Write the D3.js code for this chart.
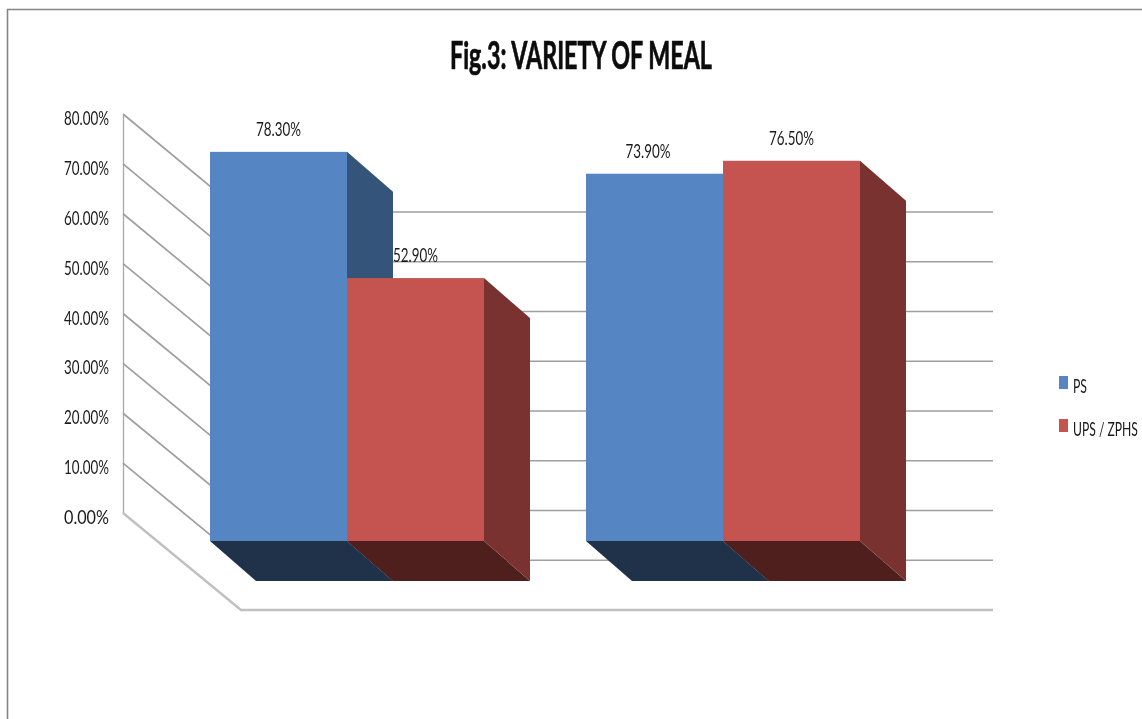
<!DOCTYPE html>
<html>
<head>
<meta charset="utf-8">
<script src="https://cdn.jsdelivr.net/npm/d3@7"></script>
<style>
html,body{margin:0;padding:0;background:#fff;}
svg{display:block;filter:blur(0.45px);}
text{font-family:Lato,"Open Sans",sans-serif;fill:#1a1a1a;}
</style>
</head>
<body>
<div id="chart"></div>
<script>
const titleText = "Fig.3: VARIETY OF MEAL";
const groups = ["Group 1", "Group 2"];
const seriesNames = ["PS", "UPS / ZPHS"];
const psValues = [78.3, 73.9];
const upsValues = [52.9, 76.5];
const tickValues = [0, 10, 20, 30, 40, 50, 60, 70, 80];
const faceColors = ["#5585c2", "#c5534f"];
const sideColors = ["#34547a", "#7a3230"];
const floorColors = ["#1f3249", "#4f1f1d"];

const W = 1142, H = 719;
const svg = d3.select("#chart").append("svg").attr("width", W).attr("height", H);

// Squeeze a text horizontally to a given pixel width (the reference is a stretched image)
function squeeze(sel, targetW) {
  sel.each(function (d, i) {
    const t = d3.select(this);
    const x = +t.attr("x"), y = +t.attr("y");
    const w = this.getComputedTextLength();
    const tw = typeof targetW === "function" ? targetW(d, i) : targetW;
    t.attr("transform", `translate(${x},${y}) scale(${tw / w},1)`).attr("x", 0).attr("y", 0);
  });
}

// Frame of the chart area
svg.append("path").attr("d", `M7.5,${H + 5}V9.5H${W + 5}`).attr("fill", "none")
  .attr("stroke", "#858585").attr("stroke-width", 1.6);

// Scales: front plane of bars, left wall edge and back wall
const yBar = d3.scaleLinear().domain([0, 80]).range([541, 143.4]);
const yWallFront = d3.scaleLinear().domain([0, 80]).range([513, 114]);
const yWallBack = d3.scaleLinear().domain([0, 80]).range([610, 212]);
const xGroup = d3.scaleOrdinal().domain(groups).range([210, 586]);
const xWallFront = 123, xWallBack = 241, xEnd = 993;
const depthX = 46, depthY = 40;
const barW = 137;

// Left wall and back wall gridlines
const grid = svg.append("g").attr("fill", "none");
grid.append("line").attr("x1", xWallFront + .5).attr("x2", xWallFront + .5)
  .attr("y1", yWallFront(80)).attr("y2", yWallFront(0))
  .attr("stroke", "#a9a9a9").attr("stroke-width", 1.3);
grid.selectAll("path.w").data(tickValues).join("path").attr("class", "w")
  .attr("d", v => `M${xWallFront},${yWallFront(v)}L${xWallBack},${yWallBack(v)}H${xEnd}`)
  .attr("stroke-width", v => v === 0 ? 2.4 : 1.7)
  .attr("stroke", v => v === 0 ? "#c0c0c0" : "#9f9f9f");

// Axis labels
svg.append("g").selectAll("text").data(tickValues).join("text")
  .attr("x", 64).attr("y", v => yWallFront(v) + 11)
  .attr("font-size", 18.5)
  .text(v => d3.format(".2f")(v) + "%")
  .call(squeeze, 45);

// Bars
const bars = [];
groups.forEach((g, gi) => {
  [psValues[gi], upsValues[gi]].forEach((v, si) => {
    const x0 = xGroup(g) + si * barW;
    bars.push({g, gi, si, v, x0, x1: x0 + barW});
  });
});
const barG = svg.append("g");
const draw = barG.selectAll("g").data(bars).join("g");
// floor
draw.append("path").attr("fill", d => floorColors[d.si])
  .attr("d", d => `M${d.x0},${yBar(0)}H${d.x1}L${d.x1 + depthX},${yBar(0) + depthY}H${d.x0 + depthX}Z`);
// side
draw.append("path").attr("fill", d => sideColors[d.si])
  .attr("d", d => `M${d.x1},${yBar(d.v)}L${d.x1 + depthX},${yBar(d.v) + depthY}V${yBar(0) + depthY}L${d.x1},${yBar(0)}Z`);
// Fronts last so that the next bar covers the previous side
barG.selectAll("rect").data(bars).join("rect")
  .attr("x", d => d.x0).attr("y", d => yBar(d.v))
  .attr("width", barW).attr("height", d => yBar(0) - yBar(d.v))
  .attr("fill", d => faceColors[d.si]);

// Value labels
const labelNudge = d => d.gi === 1 && d.si === 0 ? -6.5 : 0;
svg.append("g").selectAll("text").data(bars).join("text")
  .attr("x", d => d.x0 + barW / 2 + labelNudge(d) - 22.5)
  .attr("y", d => yBar(d.v) - 16)
  .attr("font-size", 18.5)
  .text(d => d3.format(".2f")(d.v) + "%")
  .call(squeeze, 45);

// Title
svg.append("text").attr("x", 450).attr("y", 69)
  .attr("font-size", 37.5).attr("font-weight", 700)
  .style("fill", "#0c0c0c").attr("stroke", "#0c0c0c").attr("stroke-width", 0.7)
  .text(titleText)
  .call(squeeze, 262);

// Legend
const legendY = d3.scalePoint().domain(seriesNames).range([376, 419]);
const lg = svg.append("g").selectAll("g").data(seriesNames).join("g")
  .attr("transform", d => `translate(1059,${legendY(d)})`);
lg.append("rect").attr("width", 9).attr("height", 13).attr("fill", (d, i) => faceColors[i]);
lg.append("text").attr("x", 14).attr("y", 16.5).attr("font-size", 18.5)
  .text(d => d)
  .call(squeeze, (d, i) => i === 0 ? 14 : 65);
</script>
</body>
</html>
